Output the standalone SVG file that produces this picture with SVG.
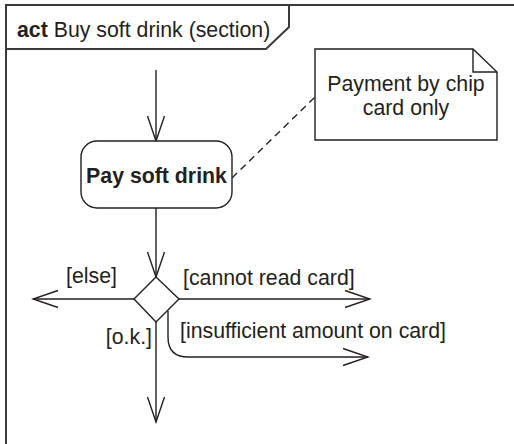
<svg xmlns="http://www.w3.org/2000/svg" width="514" height="444" viewBox="0 0 514 444">
<defs>
<style>
.t{font-family:"Liberation Sans",Arial,sans-serif;font-size:21.3px;fill:#231f20}
.b{font-weight:bold}
.ln{fill:none;stroke:#231f20;stroke-width:1.4}
.sh{fill:#fff;stroke:#231f20;stroke-width:1.4}
.fr{fill:none;stroke:#3a3a3a;stroke-width:2}
</style>
<marker id="ah" viewBox="-28 -10 30 20" markerWidth="30" markerHeight="20" refX="0" refY="0" orient="auto" markerUnits="userSpaceOnUse">
<path d="M-25,-8.5 L0,0 L-25,8.5" fill="none" stroke="#231f20" stroke-width="1.4"/>
</marker>
</defs>
<rect width="514" height="444" fill="#fff"/>
<g id="frame">
<path class="fr" d="M6,450 L6,5 L520,5"/>
<path class="fr" d="M6,49 L266,49 L289,27 L289,5"/>
<text class="t" x="17" y="37"><tspan class="b">act</tspan> Buy soft drink (section)</text>
</g>
<g id="connectors">
<path class="ln" d="M156,70 L156,141" marker-end="url(#ah)"/>
<path class="ln" d="M156,208 L156,277" marker-end="url(#ah)"/>
<path class="ln" d="M134,299 L33,299" marker-end="url(#ah)"/>
<path class="ln" d="M179,299 L370,299" marker-end="url(#ah)"/>
<path class="ln" d="M156,322 L156,422" marker-end="url(#ah)"/>
<path class="ln" d="M168,311 L168,337 Q168,357 188,357 L368,357" marker-end="url(#ah)"/>
<path class="ln" d="M232,178 L315,97" stroke-dasharray="7,5"/>
</g>
<g id="action">
<rect class="sh" x="81" y="141" width="151" height="67" rx="16" ry="16"/>
<text class="t b" x="156.5" y="183" text-anchor="middle">Pay soft drink</text>
</g>
<g id="note">
<path class="sh" d="M315,49 L473,49 L497,72 L497,140 L315,140 Z"/>
<path class="ln" d="M473,49 L473,72 L497,72"/>
<text class="t" x="406" y="91" text-anchor="middle">Payment by chip</text>
<text class="t" x="406" y="115" text-anchor="middle">card only</text>
</g>
<g id="decision">
<path class="sh" d="M156,277 L179,299 L156,322 L134,299 Z"/>
</g>
<g id="labels">
<text class="t" x="66" y="283">[else]</text>
<text class="t" x="183" y="285">[cannot read card]</text>
<text class="t" x="152" y="344" text-anchor="end">[o.k.]</text>
<text class="t" x="180" y="338">[insufficient amount on card]</text>
</g>
</svg>
